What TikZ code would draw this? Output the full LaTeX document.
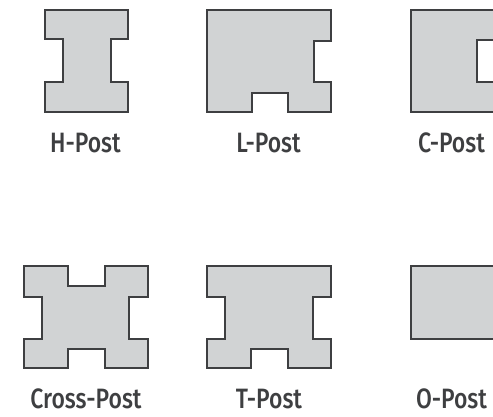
\documentclass[tikz,border=0pt]{standalone}
\usepackage{fontspec}
\setmainfont[UprightFont=* Medium,FakeStretch=0.82]{Fira Sans}
\definecolor{postfill}{HTML}{D1D3D4}
\definecolor{postline}{HTML}{3E3F41}
\tikzset{
  post/.style={draw=postline,fill=postfill,line width=2pt,miter limit=10},
  postlabel/.style={text=postline,font=\fontsize{28}{28}\selectfont,inner sep=0pt,anchor=base}
}
\begin{document}
\begin{tikzpicture}[x=1pt,y=-1pt]
\useasboundingbox (0,0) rectangle (493,417);
\clip (0,0) rectangle (493,417);
% H-Post
\draw[post] (44.5,10) -- (127.5,10) -- (127.5,39.5) -- (110.5,39.5) -- (110.5,82.5) -- (127.5,82.5) -- (127.5,112.5) -- (44.5,112.5) -- (44.5,82.5) -- (63,82.5) -- (63,39.5) -- (44.5,39.5) -- cycle;
% L-Post
\draw[post] (207,10) -- (331,10) -- (331,41) -- (313.5,41) -- (313.5,82.5) -- (331,82.5) -- (331,112.5) -- (287.5,112.5) -- (287.5,93.5) -- (252,93.5) -- (252,112.5) -- (207,112.5) -- cycle;
% C-Post
\draw[post] (500,10) -- (410.5,10) -- (410.5,112) -- (500,112) -- (500,82) -- (477,82) -- (477,40) -- (500,40) -- cycle;
% Cross-Post
\draw[post] (24,265.5) -- (67.5,265.5) -- (67.5,286) -- (105,286) -- (105,265.5) -- (148,265.5) -- (148,296.5) -- (129,296.5) -- (129,339) -- (148,339) -- (148,367.5) -- (105,367.5) -- (105,349) -- (67.5,349) -- (67.5,367.5) -- (24,367.5) -- (24,339) -- (41.5,339) -- (41.5,296.5) -- (24,296.5) -- cycle;
% T-Post
\draw[post] (207,265.5) -- (331,265.5) -- (331,296.5) -- (313,296.5) -- (313,339) -- (331,339) -- (331,367.5) -- (288,367.5) -- (288,349) -- (251,349) -- (251,367.5) -- (207,367.5) -- (207,339) -- (224.5,339) -- (224.5,296.5) -- (207,296.5) -- cycle;
% O-Post
\draw[post] (500,265.5) -- (410.5,265.5) -- (410.5,338.5) -- (500,338.5) -- cycle;
% labels
\node[postlabel] (hlabel) at (85.5,152.5) {H-Post};
\node[postlabel] (llabel) at (268.5,152.5) {L-Post};
\node[postlabel] (clabel) at (451.5,152.5) {C-Post};
\node[postlabel] (xlabel) at (86,408.5) {Cross-Post};
\node[postlabel] (tlabel) at (269,408.5) {T-Post};
\node[postlabel] (olabel) at (451.5,408.5) {O-Post};
\end{tikzpicture}
\end{document}
